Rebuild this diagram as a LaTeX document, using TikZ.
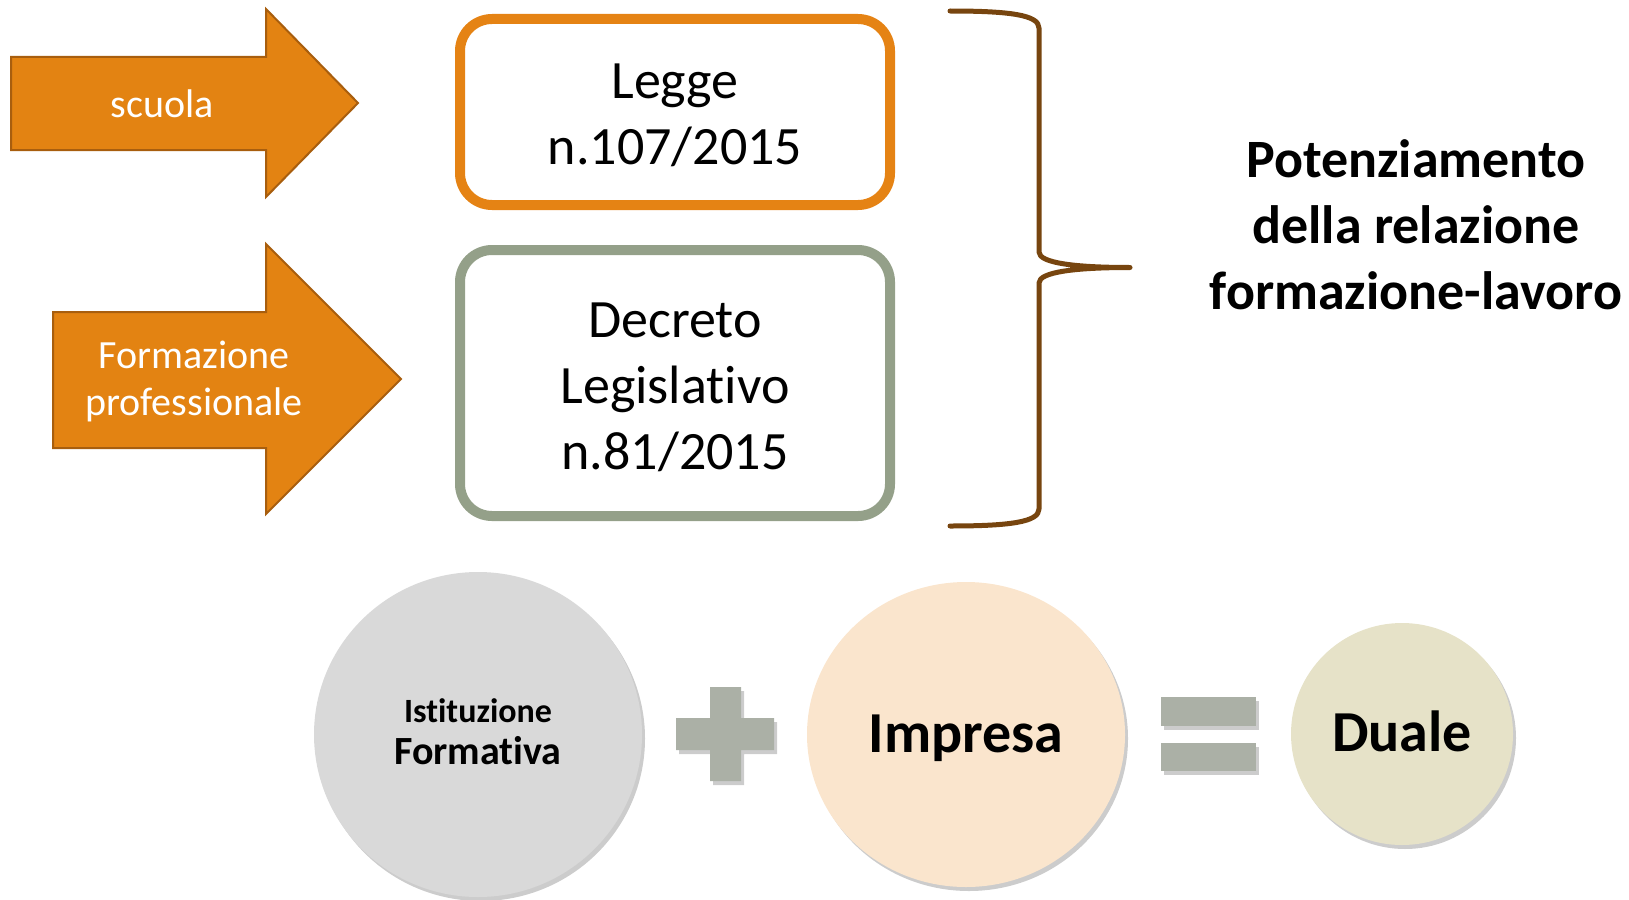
\documentclass[tikz,border=0pt]{standalone}
\usepackage{fontspec}
\setmainfont{Carlito}[Ligatures=NoCommon]
\usetikzlibrary{shapes.geometric,shadows}
\definecolor{arrowfill}{HTML}{E38312}
\definecolor{arrowline}{HTML}{A85E0E}
\definecolor{boxorange}{HTML}{E58314}
\definecolor{boxgreen}{HTML}{94A089}
\definecolor{bracecol}{HTML}{77450F}
\definecolor{istcol}{HTML}{D9D9D9}
\definecolor{impcol}{HTML}{FAE5CD}
\definecolor{dualcol}{HTML}{E6E2C8}
\definecolor{signcol}{HTML}{ABB0A6}
\begin{document}
\begin{tikzpicture}[x=1pt,y=-1pt,
  arrowshape/.style={fill=arrowfill,draw=arrowline,line width=2pt,line join=miter},
  arrowtext/.style={text=white,inner sep=0pt,font=\fontsize{40}{47}\selectfont},
  lawbox/.style={line width=10pt,rounded corners=32pt,inner sep=0pt,minimum width=430pt,
    align=center,font=\fontsize{54}{66}\selectfont},
  softshadow/.style={drop shadow={shadow xshift=3pt,shadow yshift=-4pt,opacity=.25,fill=black!80}},
  blob/.style={inner sep=0pt,softshadow,align=center},
  signshape/.style={fill=signcol,softshadow},
  bracestyle/.style={draw=bracecol,line width=5pt,line cap=round,line join=round}
]
\useasboundingbox (0,0) rectangle (1629,899);

% arrows
\path[arrowshape] (11,57) -- (266,57) -- (266,9) -- (358,103) -- (266,197) -- (266,150) -- (11,150) -- cycle;
\node[arrowtext,anchor=base] (scuola) at (162,117) {scuola};
\path[arrowshape] (53,312) -- (266,312) -- (266,244) -- (401,379) -- (266,514) -- (266,448) -- (53,448) -- cycle;
\node[arrowtext,anchor=base,align=center] (formprof) at (194,415) {Formazione\\professionale};

% law boxes
\node[lawbox,draw=boxorange,minimum height=186pt,text height=110pt,text depth=6pt] (legge) at (675,112) {Legge\\n.107/2015};
\node[lawbox,draw=boxgreen,minimum height=266pt,text height=180pt,text depth=8pt] (decreto) at (675,383) {Decreto\\Legislativo\\n.81/2015};

% brace
\draw[bracestyle] (950,11) .. controls (1010,11) and (1039,15) .. (1039,28) -- (1039,252)
  .. controls (1039,263) and (1075,267.5) .. (1130,267.5)
  .. controls (1075,267.5) and (1039,272) .. (1039,283) -- (1039,509)
  .. controls (1039,522) and (1010,526) .. (950,526);
\node[inner sep=0pt,anchor=base,align=center,font=\bfseries\fontsize{54}{66}\selectfont] (potenz) at (1416,309) {Potenziamento\\della relazione\\formazione-lavoro};

% bottom equation
\node[blob,ellipse,fill=istcol,minimum width=328pt,minimum height=325pt,
  font=\bfseries\fontsize{40}{42}\selectfont,text height=65pt,text depth=6pt] (istit) at (478,734.5)
  {{\fontsize{34}{40}\selectfont Istituzione}\\Formativa};
\path[signshape] (710,687) -- (741,687) -- (741,718) -- (774,718) -- (774,750) -- (741,750)
  -- (741,781) -- (710,781) -- (710,750) -- (676,750) -- (676,718) -- (710,718) -- cycle;
\node[blob,ellipse,fill=impcol,minimum width=318pt,minimum height=305pt,
  font=\bfseries\fontsize{58}{70}\selectfont,text height=45pt,text depth=10pt] (impresa) at (966,734.5) {Impresa};
\path[signshape] (1161,697) rectangle (1256,726);
\path[signshape] (1161,743) rectangle (1256,771);
\node[blob,circle,fill=dualcol,minimum size=222pt,
  font=\bfseries\fontsize{58}{70}\selectfont,text height=44pt,text depth=10pt] (duale) at (1402,734) {Duale};
\end{tikzpicture}
\end{document}
